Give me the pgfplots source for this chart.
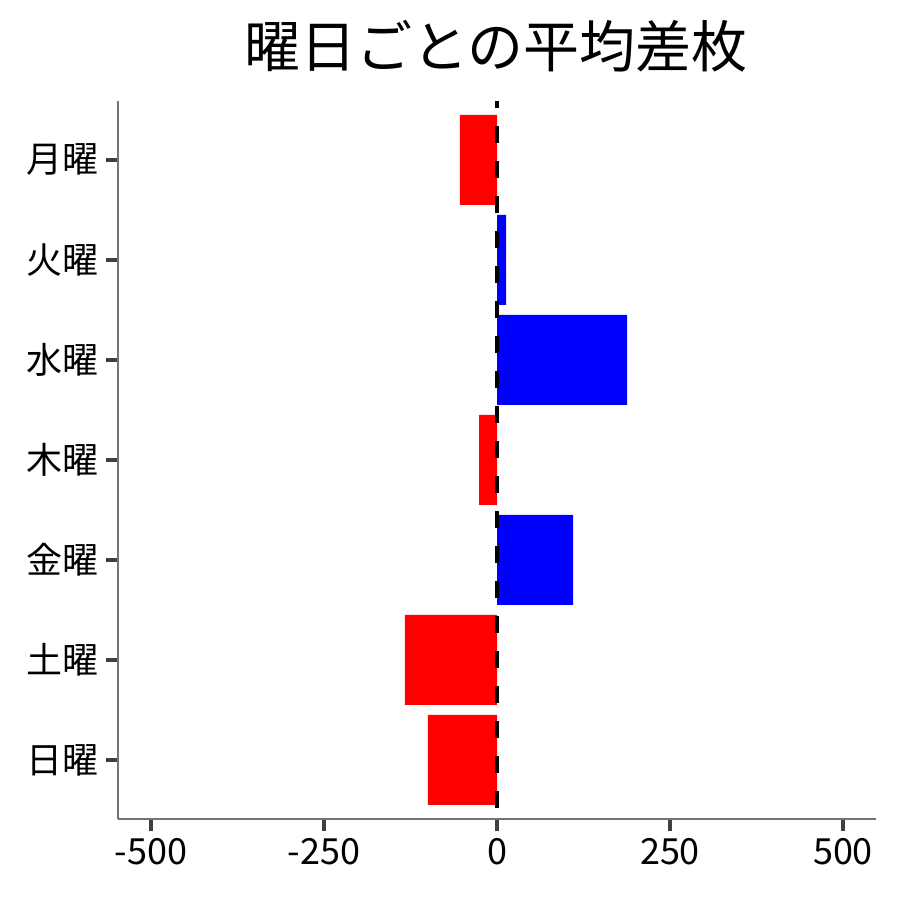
\documentclass[border=0pt]{standalone}
\usepackage{fontspec}
\setmainfont{Noto Sans CJK JP}
\usepackage{pgfplots}
\pgfplotsset{compat=1.18}
\begin{document}
\begin{tikzpicture}
\path[use as bounding box] (0,0) rectangle (450bp,450bp);
\begin{axis}[
  at={(59bp,40.5bp)}, anchor=south west,
  width=379bp, height=359bp, scale only axis,
  xmin=-547.7, xmax=547.7, ymin=-0.59, ymax=6.59,
  axis x line*=bottom, axis y line*=left,
  axis line style={draw=black!55, line width=0.6bp, -},
  xtick={-500,-250,0,250,500},
  xticklabels={-500,-250,0,250,500},
  ytick={0,...,6},
  yticklabels={日曜,土曜,金曜,木曜,水曜,火曜,月曜},
  tick align=outside,
  major tick length=6bp,
  tick style={line width=2.2bp, color=black!75},
  tick label style={font=\fontsize{18bp}{20bp}\selectfont},
]
% negative days
\addplot[xbar, bar width=0.9, bar shift=0pt, fill=red, draw=none] coordinates {
  (-53.5,6) (-26,3) (-133,1) (-100,0)
};
% positive days
\addplot[xbar, bar width=0.9, bar shift=0pt, fill=blue, draw=none] coordinates {
  (13,5) (188,4) (110,2)
};
\addplot[black, line width=2bp, dash pattern=on 8.25bp off 9.25bp, dash phase=4.75bp]
  coordinates {(0,6.59) (0,-0.59)};
\end{axis}
\node[font=\fontsize{28bp}{30bp}\selectfont] at (248bp,427bp) {曜日ごとの平均差枚};
\end{tikzpicture}
\end{document}
